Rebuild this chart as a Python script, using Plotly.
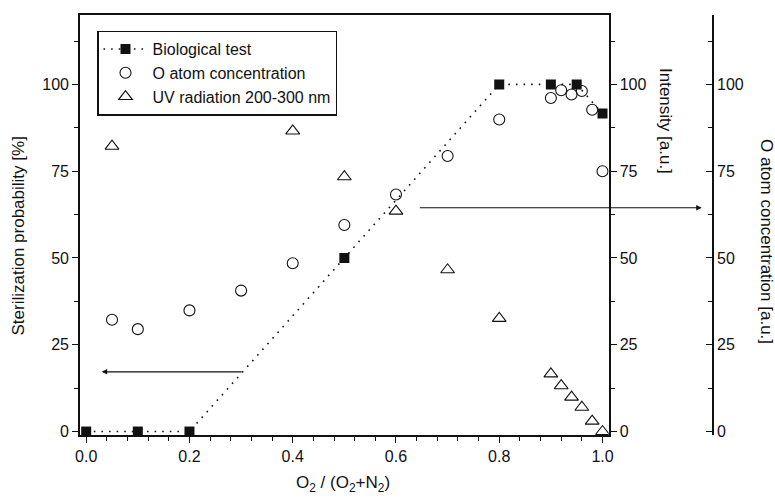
import plotly.graph_objects as go

# Sterilization probability from the biological test
bio_x = [0.0, 0.1, 0.2, 0.5, 0.8, 0.9, 0.95, 1.0]
bio_y = [0, 0, 0, 50, 100, 100, 100, 91.6]

# O atom concentration (right outer axis)
o_x = [0.05, 0.1, 0.2, 0.3, 0.4, 0.5, 0.6, 0.7, 0.8, 0.9, 0.92, 0.94, 0.96, 0.98, 1.0]
o_y = [32.2, 29.5, 34.9, 40.6, 48.5, 59.5, 68.3, 79.4, 89.9, 96.1, 98.3, 97.1, 98.1, 92.7, 75.0]

# UV radiation 200-300 nm intensity (right inner axis)
uv_x = [0.05, 0.4, 0.5, 0.6, 0.7, 0.8, 0.9, 0.92, 0.94, 0.96, 0.98, 1.0]
uv_y = [82.2, 86.6, 73.4, 63.5, 46.6, 32.6, 16.6, 13.2, 9.9, 7.0, 3.0, 0.0]

x_ticks = [0.0, 0.2, 0.4, 0.6, 0.8, 1.0]
y_ticks = [0, 25, 50, 75, 100]

FONT = "Liberation Sans, Arial, sans-serif"
INK = "#111111"

fig = go.Figure()

fig.add_trace(go.Scatter(
    x=bio_x, y=bio_y, name="Biological test", mode="lines+markers",
    line=dict(color=INK, width=1.6, dash="1.6px,6px"),
    marker=dict(symbol="square", size=10, color=INK),
    yaxis="y",
))
fig.add_trace(go.Scatter(
    x=o_x, y=o_y, name="O atom concentration", mode="markers",
    marker=dict(symbol="circle-open", size=11, color=INK, line=dict(width=1.1)),
    yaxis="y3",
))
fig.add_trace(go.Scatter(
    x=uv_x, y=uv_y, name="UV radiation 200-300 nm", mode="markers",
    marker=dict(symbol="triangle-up-open", size=12, color=INK, line=dict(width=1.1)),
    yaxis="y2",
))

yr = [-1, 120]
axis_common = dict(
    showline=True, linecolor=INK, linewidth=1.6, showgrid=False, zeroline=False,
    tickfont=dict(family=FONT, size=16, color=INK), tickcolor=INK,
    tickwidth=1.4, ticklen=6,
)

fig.update_layout(
    width=775, height=499,
    margin=dict(l=80, r=62, t=15, b=64),
    paper_bgcolor="white", plot_bgcolor="white",
    font=dict(family=FONT, color=INK),
    showlegend=True,
    legend=dict(
        x=(97 - 80) / 633, y=0.963, xanchor="left", yanchor="top",
        bordercolor=INK, borderwidth=1.5, bgcolor="white",
        font=dict(family=FONT, size=16, color=INK),
        itemwidth=44, tracegroupgap=0,
    ),
    xaxis=dict(
        domain=[0, (608.7 - 80) / 633], range=[-0.012, 1.012],
        tickvals=x_ticks, tickformat=".1f", ticks="outside", mirror=True,
        minor=dict(dtick=0.04, tick0=0, ticks="outside", ticklen=4,
                   tickcolor=INK, tickwidth=1.2),
        **axis_common,
    ),
    yaxis=dict(
        range=yr, tickvals=y_ticks, ticks="outside",
        minor=dict(dtick=12.5, tick0=0, ticks="outside", ticklen=4,
                   tickcolor=INK, tickwidth=1.2),
        **axis_common,
    ),
    yaxis2=dict(
        range=yr, tickvals=y_ticks, ticks="outside", overlaying="y",
        side="right", anchor="x",
        minor=dict(dtick=12.5, tick0=0, ticks="outside", ticklen=4,
                   tickcolor=INK, tickwidth=1.2),
        **axis_common,
    ),
    yaxis3=dict(
        range=yr, tickvals=y_ticks, ticks="inside", overlaying="y",
        side="right", anchor="free", position=1.0,
        minor=dict(dtick=12.5, tick0=0, ticks="inside", ticklen=4,
                   tickcolor=INK, tickwidth=1.2),
        **axis_common,
    ),
)

title_font = dict(family=FONT, size=17, color=INK)
titles = [
    ("Sterilization probability [%]", 18, 236.5, -90),
    ("Intensity [a.u.]", 666, 121, 90),
    ("O atom concentration [a.u.]", 767, 241, 90),
    ("O<sub>2</sub> / (O<sub>2</sub>+N<sub>2</sub>)", 343, 484, 0),
]
for text, px, py, ang in titles:
    fig.add_annotation(
        text=text, xref="paper", yref="paper",
        x=(px - 80) / 633, y=1 - (py - 15) / 420,
        xanchor="center", yanchor="middle", textangle=ang,
        showarrow=False, font=title_font,
    )

# arrows pointing each data set to its axis
fig.add_annotation(
    x=0.03, y=17.2, ax=0.304, ay=17.2, xref="x", yref="y", axref="x", ayref="y",
    text="", showarrow=True, arrowhead=2, arrowsize=1, arrowwidth=1.1, arrowcolor=INK,
)
fig.add_annotation(
    x=(701.7 - 80) / 633, y=1 - (207.7 - 15) / 420, xref="paper", yref="paper",
    ax=-(701.7 - 418.3), ay=0, text="", showarrow=True,
    arrowhead=2, arrowsize=1, arrowwidth=1.1, arrowcolor=INK,
)

fig.write_html("out.html")
